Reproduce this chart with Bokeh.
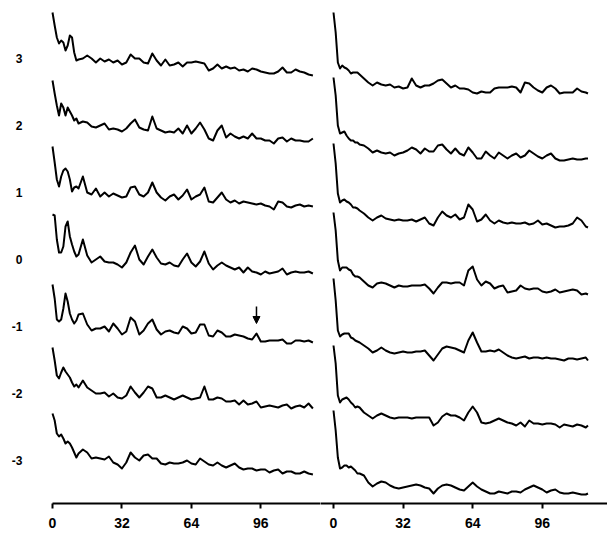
from bokeh.plotting import figure
from bokeh.layouts import row
from bokeh.models import Range1d, FixedTicker, Arrow, NormalHead
from bokeh.embed import file_html
from bokeh.resources import INLINE

# ---------------- data ----------------
levels = [3, 2, 1, 0, -1, -2, -3]
level_labels = ["3", "2", "1", "0", "-1", "-2", "-3"]
x_ticks = [0, 32, 64, 96]

x_left = list(range(0, 13)) + list(range(14, 121, 2))
x_right = list(range(0, 13)) + list(range(14, 117, 2)) + [117]

left_3 = [46, 33, 21, 15, 18, 16, 8, 13, 23, 21, 6, -2, -1,
          0, 3, 0, -4, 0, -3, -1, -4, -2, -6,
          -4, 4, 0, 0, -4, -5, 5, -2, -7, -1,
          -7, -6, -4, -8, -4, -4, -3, -4, -5, -12,
          -10, -6, -10, -8, -10, -9, -12, -11, -13, -10,
          -11, -13, -14, -15, -15, -13, -9, -14, -14, -11,
          -13, -14, -16, -17]
left_2 = [45, 32, 20, 10, 22, 18, 10, 18, 14, 10, 5, 7, 2,
          4, 3, -1, -2, 0, 2, -4, -3, -4, -6,
          -3, 2, 6, -2, -4, -5, 9, -3, -5, -7,
          -6, -7, -3, -8, 0, -8, -3, 3, -4, -13,
          -15, -5, 0, -12, -8, -11, -13, -11, -13, -8,
          -13, -13, -15, -15, -18, -13, -12, -16, -13, -15,
          -15, -16, -16, -13]
left_1 = [46, 30, 13, 6, 16, 22, 24, 21, 13, 1, 5, 6, 4,
          16, 0, -2, 4, -4, 0, -4, -1, -3, -5,
          -4, 5, 6, -2, -4, 0, 10, 0, -5, -8,
          -4, -2, -7, -3, 3, -7, -4, -2, 5, -9,
          -10, -5, 0, -7, -10, -8, -11, -9, -10, -11,
          -12, -11, -13, -14, -17, -9, -10, -14, -15, -13,
          -12, -14, -13, -14]
left_0 = [45, 44, 20, 7, 7, 13, 33, 38, 23, 15, 8, 3, 5,
          20, 4, -3, 0, 3, -2, -3, -3, -5, -8,
          -3, 7, 14, 0, -5, 3, 10, 2, -4, -5,
          -3, -6, -7, 0, 6, -3, -7, -2, 8, -4,
          -10, -6, -3, -6, -8, -10, -8, -13, -8, -12,
          -13, -15, -12, -14, -13, -12, -9, -15, -13, -12,
          -13, -13, -12, -14]
left_m1 = [42, 28, 7, 5, 7, 18, 33, 25, 13, 7, 3, 6, 12,
           13, 2, -4, -2, -2, 0, -5, 3, -2, -8,
           -5, 9, 5, -8, -4, 3, 7, -3, -8, -5,
           -4, -6, -7, 0, -2, -7, -6, 2, 2, -9,
           -10, -4, -6, -10, -10, -8, -9, -10, -12, -13,
           -7, -15, -15, -14, -14, -14, -13, -17, -17, -14,
           -14, -15, -14, -16]
left_m2 = [46, 33, 18, 15, 21, 26, 22, 19, 16, 11, 7, 9, 6,
           13, 6, 3, 0, 0, 1, -3, 0, -4, -5,
           -2, 7, 1, -4, 1, 7, 5, -4, -4, -2,
           -4, -6, -4, -2, -4, -6, -5, -4, 7, -6,
           -6, -4, -5, -8, -8, -7, -11, -7, -11, -10,
           -8, -14, -13, -12, -13, -14, -12, -11, -15, -13,
           -12, -14, -10, -15]
left_m3 = [47, 40, 27, 24, 26, 22, 17, 19, 17, 13, 8, 3, 7,
           11, 8, 2, 3, 2, 1, 4, -2, -4, -8,
           -2, 8, 3, 0, 5, 6, 2, 2, -3, -4,
           -2, -3, -3, -2, 0, -3, -4, 2, -1, -4,
           -5, -2, -5, -7, -5, -3, -7, -9, -8, -8,
           -10, -9, -9, -12, -10, -9, -13, -11, -11, -13,
           -13, -11, -13, -14]

right_3 = [46, 26, -4, -10, -7, -9, -10, -12, -15, -14, -14, -14, -16,
           -20, -24, -27, -24, -26, -27, -26, -29, -28, -30,
           -29, -20, -27, -29, -27, -27, -25, -22, -21, -25,
           -29, -27, -30, -30, -31, -34, -35, -33, -34, -34,
           -30, -29, -29, -29, -28, -29, -34, -24, -25, -29,
           -32, -34, -29, -27, -30, -35, -34, -34, -34, -30,
           -33, -34, -35]
right_2 = [48, 30, 0, -8, -7, -6, -10, -13, -15, -15, -17, -17, -19,
           -20, -23, -27, -25, -27, -28, -27, -30, -28, -27,
           -25, -22, -24, -28, -23, -26, -26, -20, -19, -24,
           -28, -23, -28, -30, -22, -27, -33, -33, -26, -30,
           -33, -27, -30, -33, -30, -28, -32, -30, -25, -28,
           -31, -33, -30, -28, -33, -35, -35, -34, -33, -34,
           -34, -33, -33]
right_1 = [49, 29, -1, -10, -8, -7, -9, -10, -12, -15, -15, -16, -18,
           -21, -25, -28, -25, -23, -26, -27, -28, -27, -28,
           -28, -27, -29, -27, -25, -31, -33, -25, -19, -23,
           -25, -22, -27, -25, -12, -17, -29, -27, -22, -28,
           -31, -28, -30, -31, -30, -31, -31, -30, -32, -31,
           -28, -32, -31, -33, -35, -34, -34, -33, -31, -25,
           -28, -34, -35]
right_0 = [47, 29, -1, -11, -8, -8, -8, -10, -11, -15, -17, -17, -18,
           -22, -26, -28, -24, -23, -24, -26, -28, -26, -27,
           -27, -26, -26, -26, -25, -29, -34, -28, -23, -23,
           -24, -23, -23, -26, -11, -7, -20, -26, -22, -24,
           -29, -27, -26, -33, -32, -31, -26, -29, -30, -29,
           -29, -32, -33, -32, -30, -33, -32, -31, -30, -31,
           -35, -34, -35]
right_m1 = [48, 26, -4, -10, -8, -7, -7, -7, -11, -12, -14, -15, -16,
            -19, -22, -26, -24, -21, -24, -26, -27, -26, -25,
            -26, -26, -25, -25, -24, -29, -34, -28, -22, -20,
            -21, -22, -24, -26, -14, -6, -16, -25, -25, -24,
            -25, -23, -26, -29, -31, -32, -31, -30, -32, -31,
            -31, -32, -31, -32, -32, -33, -34, -32, -32, -33,
            -32, -31, -34]
right_m2 = [48, 30, -2, -9, -6, -5, -4, -6, -9, -11, -14, -13, -14,
            -19, -22, -25, -22, -20, -22, -24, -25, -24, -24,
            -24, -25, -24, -24, -24, -24, -32, -29, -23, -20,
            -22, -22, -24, -27, -19, -13, -19, -29, -30, -29,
            -27, -25, -27, -29, -30, -32, -29, -33, -27, -30,
            -30, -31, -30, -30, -31, -34, -31, -32, -33, -31,
            -32, -34, -32]
right_m3 = [50, 30, 3, -8, -7, -5, -5, -7, -6, -8, -10, -13, -13,
            -15, -22, -26, -23, -21, -22, -25, -27, -28, -27,
            -26, -25, -24, -25, -27, -28, -33, -28, -25, -24,
            -25, -27, -29, -30, -26, -22, -26, -29, -31, -33,
            -33, -31, -32, -33, -31, -31, -32, -29, -27, -25,
            -27, -29, -32, -30, -29, -32, -33, -33, -32, -33,
            -34, -34, -33]

left_series = [left_3, left_2, left_1, left_0, left_m1, left_m2, left_m3]
right_series = [right_3, right_2, right_1, right_0, right_m1, right_m2, right_m3]

arrow_level = -1
arrow_x = 94

# ---------------- layout constants ----------------
SPACING = 67
Y_RANGE = (-244, 259)
FONT = "Liberation Sans"
H = 537


def style_common(p):
    p.grid.visible = False
    p.outline_line_color = None
    p.background_fill_color = "white"
    p.border_fill_color = "white"
    ax = p.xaxis[0]
    ax.ticker = FixedTicker(ticks=x_ticks)
    ax.axis_line_width = 2
    ax.axis_line_color = "black"
    ax.major_tick_line_width = 2
    ax.major_tick_line_color = "black"
    ax.major_tick_out = 5
    ax.major_tick_in = 0
    ax.minor_tick_line_color = None
    ax.major_label_standoff = 9
    ax.major_label_text_font = FONT
    ax.major_label_text_font_size = "14px"
    ax.major_label_text_font_style = "bold"
    ax.major_label_text_color = "black"


# left panel
p1 = figure(width=320, height=H, output_backend="svg", toolbar_location=None,
            x_range=Range1d(-9.217, 123.5), y_range=Range1d(*Y_RANGE),
            min_border_left=32, min_border_right=0, min_border_top=0,
            min_border_bottom=34)
style_common(p1)
p1.xaxis[0].bounds = (0, 123.5)
ya = p1.yaxis[0]
ya.ticker = FixedTicker(ticks=[SPACING * l for l in levels])
ya.major_label_overrides = {SPACING * l: lab for l, lab in zip(levels, level_labels)}
ya.axis_line_color = None
ya.major_tick_line_color = None
ya.minor_tick_line_color = None
ya.major_label_standoff = 4
ya.major_label_text_font = FONT
ya.major_label_text_font_size = "12px"
ya.major_label_text_font_style = "bold"
ya.major_label_text_color = "black"

for lvl, vals in zip(levels, left_series):
    p1.line(x_left, [SPACING * lvl + v for v in vals], line_color="black",
            line_width=2, line_join="round")

# arrow above the small peak of the -1 trace
vals_a = left_series[levels.index(arrow_level)]
y_at = SPACING * arrow_level + vals_a[x_left.index(arrow_x)]
p1.add_layout(Arrow(end=NormalHead(size=7, fill_color="black", line_color="black"),
                    x_start=arrow_x, y_start=y_at + 27, x_end=arrow_x, y_end=y_at + 10,
                    line_width=1.5, line_color="black"))

# right panel
p2 = figure(width=287, height=H, output_backend="svg", toolbar_location=None,
            x_range=Range1d(-5.977, 125.98), y_range=Range1d(*Y_RANGE),
            y_axis_location=None,
            min_border_left=0, min_border_right=0, min_border_top=0,
            min_border_bottom=34)
style_common(p2)

for lvl, vals in zip(levels, right_series):
    p2.line(x_right, [SPACING * lvl + v for v in vals], line_color="black",
            line_width=2, line_join="round")

layout = row(p1, p2)
open("out.html", "w").write(file_html(layout, INLINE))
